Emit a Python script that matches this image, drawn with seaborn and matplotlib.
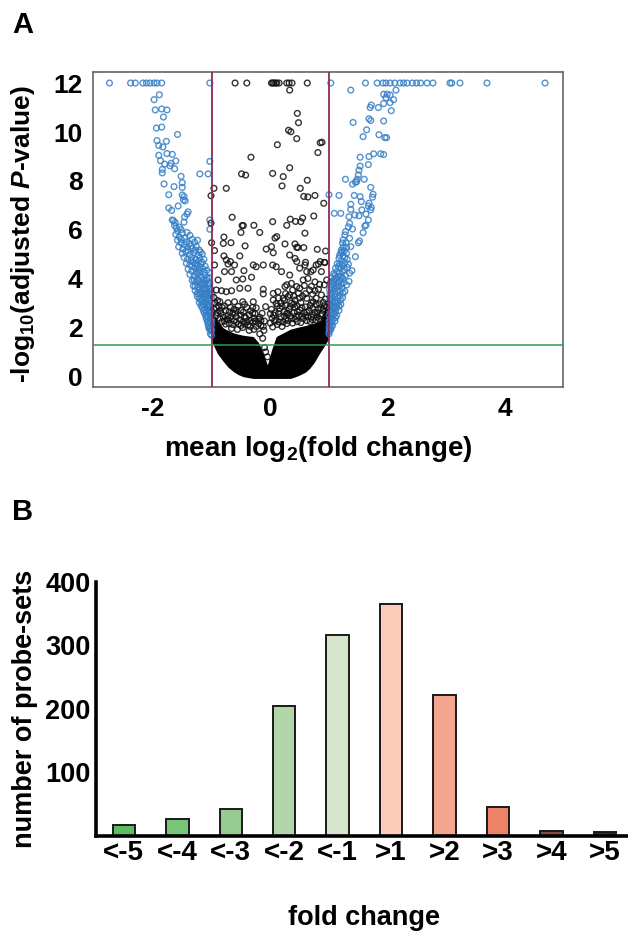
import matplotlib
matplotlib.use("Agg")
import matplotlib.pyplot as plt
import pandas as pd
import seaborn as sns
from matplotlib.ticker import MultipleLocator

# Panel A: values as (log2 fold change, -log10 p)
TOP_BLUE_X = [-2.74, -2.38, -2.30, -2.17, -2.11, -2.05, -1.98, -1.93, -1.85, -1.03,
              1.03, 1.62, 1.82, 1.92, 1.97, 2.04, 2.12, 2.21, 2.27, 2.33, 2.42, 2.49,
              2.56, 2.67, 2.77, 3.06, 3.09, 3.23, 3.69, 4.68]
TOP_BLACK_X = [-0.60, -0.40, 0.02, 0.04, 0.06, 0.09, 0.11, 0.15, 0.28, 0.32, 0.37, 0.63]

BLUE_LEFT = [
    (-1.89, 11.52), (-1.98, 11.32), (-1.96, 10.90), (-1.85, 10.94), (-1.76, 10.90), (-1.82, 10.61),
    (-1.94, 10.16), (-1.85, 10.20), (-1.58, 9.90), (-1.93, 9.65), (-1.77, 9.62), (-1.90, 9.45),
    (-1.83, 9.39), (-1.90, 9.05), (-1.76, 9.12), (-1.67, 9.09), (-1.87, 8.83), (-1.61, 8.82),
    (-1.69, 8.72), (-1.80, 8.69), (-1.71, 8.62), (-1.63, 8.50), (-1.84, 8.47), (-1.84, 8.33),
    (-1.20, 8.29), (-1.06, 8.29), (-1.03, 8.80), (-1.52, 8.19), (-1.50, 7.93), (-1.81, 7.88),
    (-1.64, 7.77), (-1.50, 7.74), (-1.73, 7.44), (-1.50, 7.43), (-1.47, 7.36), (-1.48, 7.23),
    (-1.45, 7.19), (-1.57, 6.98), (-1.73, 6.90), (-1.68, 6.80), (-1.40, 6.74), (-1.42, 6.65),
    (-1.46, 6.53), (-1.67, 6.41), (-1.47, 6.32), (-1.03, 6.41), (-1.03, 6.03), (-1.65, 6.38),
    (-1.62, 6.30), (-1.63, 6.18), (-1.60, 6.08), (-1.55, 6.12), (-1.52, 6.02), (-1.58, 5.95),
    (-1.61, 5.82), (-1.50, 5.88), (-1.42, 5.90), (-1.37, 5.78), (-1.55, 5.72), (-1.46, 5.66),
    (-1.33, 5.62), (-1.58, 5.58), (-1.52, 5.47), (-1.43, 5.52), (-1.38, 5.44), (-1.29, 5.50),
    (-1.24, 5.58), (-1.56, 5.31), (-1.49, 5.22), (-1.41, 5.30), (-1.33, 5.24), (-1.26, 5.33),
    (-1.21, 5.18), (-1.50, 5.05), (-1.44, 5.12), (-1.37, 5.00), (-1.30, 5.06), (-1.23, 4.98),
    (-1.16, 5.02), (-1.47, 4.88), (-1.41, 4.81), (-1.34, 4.88), (-1.27, 4.79), (-1.20, 4.86),
    (-1.13, 4.80), (-1.43, 4.64), (-1.37, 4.58), (-1.31, 4.68), (-1.25, 4.56), (-1.18, 4.62),
    (-1.11, 4.52), (-1.40, 4.40), (-1.34, 4.33), (-1.28, 4.44), (-1.22, 4.36), (-1.15, 4.42),
    (-1.08, 4.36), (-1.04, 4.25), (-1.37, 4.18), (-1.30, 4.12), (-1.24, 4.20), (-1.18, 4.08),
    (-1.11, 4.15), (-1.05, 4.06), (-1.33, 3.94), (-1.27, 3.87), (-1.21, 3.95), (-1.15, 3.84),
    (-1.09, 3.92), (-1.03, 3.82), (-1.31, 3.72), (-1.24, 3.66), (-1.18, 3.73), (-1.12, 3.62),
    (-1.06, 3.70), (-1.01, 3.58), (-1.28, 3.52), (-1.22, 3.44), (-1.16, 3.50), (-1.10, 3.38),
    (-1.04, 3.46), (-0.99, 3.36), (-1.24, 3.28), (-1.18, 3.20), (-1.13, 3.27), (-1.07, 3.16),
    (-1.02, 3.24), (-1.21, 3.04), (-1.15, 2.97), (-1.10, 3.05), (-1.05, 2.93), (-1.00, 3.02),
    (-1.16, 2.83), (-1.12, 2.76), (-1.07, 2.84), (-1.02, 2.72), (-1.12, 2.60), (-1.08, 2.52),
    (-1.04, 2.60), (-1.00, 2.50), (-1.09, 2.38), (-1.05, 2.30), (-1.01, 2.36), (-1.06, 2.16),
    (-1.03, 2.08), (-1.00, 2.14), (-1.04, 1.96), (-1.01, 1.88), (-1.02, 1.76),
    # denser part of the left arm
    (-1.35, 4.75), (-1.28, 4.62), (-1.22, 4.72), (-1.16, 4.68), (-1.33, 4.52), (-1.20, 4.50),
    (-1.13, 4.28), (-1.26, 4.28), (-1.20, 4.26), (-1.08, 4.02), (-1.14, 3.98), (-1.24, 3.96),
    (-1.30, 3.96), (-1.18, 3.86), (-1.12, 3.78), (-1.06, 3.82), (-1.28, 3.70), (-1.21, 3.58),
    (-1.15, 3.60), (-1.09, 3.55), (-1.03, 3.60), (-1.25, 3.40), (-1.19, 3.38), (-1.13, 3.40),
    (-1.07, 3.34), (-1.02, 3.40), (-1.21, 3.18), (-1.10, 3.20), (-1.04, 3.12), (-1.16, 3.10),
    (-1.12, 2.92), (-1.18, 2.92), (-1.07, 2.96), (-1.02, 2.90), (-1.14, 2.70), (-1.09, 2.68),
    (-1.04, 2.74), (-1.00, 2.66), (-1.10, 2.48), (-1.06, 2.44), (-1.02, 2.48), (-1.07, 2.26),
    (-1.03, 2.22), (-1.00, 2.30), (-1.05, 2.04), (-1.02, 1.98), (-1.00, 1.92), (-1.00, 1.70),
    (-1.46, 5.40), (-1.35, 5.35), (-1.28, 5.18), (-1.40, 5.15), (-1.19, 5.10), (-1.52, 5.62),
]
BLUE_RIGHT = [
    (1.37, 11.71), (2.14, 11.71), (1.93, 11.54), (1.99, 11.54), (2.04, 11.51), (1.97, 11.40),
    (2.10, 11.32), (2.04, 11.20), (1.93, 11.16), (1.72, 11.10), (1.70, 11.00), (1.84, 11.00),
    (2.06, 10.87), (1.41, 10.39), (1.68, 10.54), (1.71, 10.47), (1.93, 10.45), (1.64, 10.09),
    (1.85, 9.89), (1.58, 9.81), (1.95, 9.77), (1.98, 9.77), (1.53, 8.97), (1.68, 9.00),
    (1.76, 9.11), (1.88, 9.11), (1.93, 9.08), (1.67, 8.67), (1.53, 8.61), (1.51, 8.44),
    (1.50, 8.25), (1.28, 8.07), (1.60, 8.07), (1.48, 8.07), (1.47, 7.97), (1.45, 7.95),
    (1.40, 7.87), (1.71, 7.74), (1.00, 7.44), (1.17, 7.41), (1.43, 7.41), (1.53, 7.36),
    (1.75, 7.46), (1.74, 7.34), (1.55, 7.16), (1.37, 7.05), (1.68, 7.09), (1.67, 6.98),
    (1.72, 6.92), (1.71, 6.82), (1.37, 6.84), (1.09, 6.68), (1.20, 6.68), (1.34, 6.54),
    (1.44, 6.61), (1.51, 6.58), (1.56, 6.82), (1.63, 6.65), (1.67, 6.41), (1.63, 6.20),
    (1.61, 6.16), (1.35, 6.27), (1.33, 6.13), (1.40, 6.04), (1.28, 5.93), (1.27, 5.80),
    (1.58, 5.89), (1.52, 5.55), (1.50, 5.48), (1.24, 5.60), (1.35, 5.66), (1.37, 5.32),
    (1.23, 5.47), (1.21, 5.18), (1.20, 5.05), (1.30, 5.05), (1.17, 4.84), (1.45, 4.91),
    (1.33, 4.60), (1.16, 4.50), (1.10, 4.16), (1.39, 4.34), (1.35, 4.24), (1.21, 4.10),
    (1.34, 3.90), (1.07, 3.90), (1.13, 3.70), (1.27, 3.49), (1.04, 3.70), (1.01, 3.56),
    (1.30, 5.30), (1.26, 5.15), (1.24, 4.95), (1.31, 4.80), (1.21, 4.72), (1.27, 4.66),
    (1.14, 4.62), (1.20, 4.44), (1.26, 4.38), (1.31, 4.47), (1.13, 4.30), (1.17, 4.22),
    (1.28, 4.14), (1.05, 4.05), (1.12, 4.00), (1.19, 3.94), (1.25, 3.85), (1.30, 3.76),
    (1.08, 3.78), (1.17, 3.70), (1.22, 3.62), (1.02, 3.42), (1.07, 3.48), (1.12, 3.40),
    (1.18, 3.32), (1.23, 3.24), (1.01, 3.24), (1.05, 3.18), (1.10, 3.10), (1.15, 3.04),
    (1.20, 2.96), (1.00, 3.02), (1.04, 2.94), (1.08, 2.86), (1.12, 2.80), (1.17, 2.72),
    (1.01, 2.74), (1.05, 2.66), (1.09, 2.58), (1.13, 2.50), (1.00, 2.52), (1.03, 2.44),
    (1.07, 2.36), (1.10, 2.28), (1.00, 2.26), (1.03, 2.18), (1.06, 2.10), (1.00, 2.02),
    (1.03, 1.94), (1.00, 1.84),
    # denser part of the right arm
    (1.24, 5.30), (1.29, 5.48), (1.22, 5.10), (1.18, 4.96), (1.27, 4.88), (1.22, 4.58),
    (1.18, 4.62), (1.11, 4.44), (1.23, 4.30), (1.08, 4.22), (1.16, 4.10), (1.24, 4.02),
    (1.09, 3.98), (1.03, 3.90), (1.15, 3.84), (1.21, 3.78), (1.10, 3.62), (1.05, 3.60),
    (1.19, 3.50), (1.14, 3.52), (1.24, 3.42), (1.04, 3.32), (1.09, 3.28), (1.15, 3.22),
    (1.20, 3.14), (1.02, 3.10), (1.07, 3.02), (1.13, 2.92), (1.17, 2.88), (1.02, 2.88),
    (1.06, 2.78), (1.11, 2.68), (1.03, 2.60), (1.07, 2.52), (1.11, 2.42), (1.02, 2.34),
    (1.05, 2.26), (1.01, 2.12), (1.04, 2.04), (1.01, 1.92), (1.00, 1.76),
]
BLACK_POINTS = [
    (0.33, 11.71), (0.46, 10.76), (0.48, 10.38), (0.31, 10.07), (0.35, 10.01), (0.45, 9.73),
    (0.12, 9.48), (0.81, 9.16), (0.85, 9.56), (0.88, 9.58), (-0.33, 8.97), (-0.49, 8.29),
    (-0.42, 8.24), (0.04, 8.31), (0.22, 8.18), (0.33, 8.54), (0.63, 8.03), (0.20, 7.80),
    (0.51, 7.70), (-0.96, 7.70), (-0.75, 7.70), (-1.01, 7.40), (0.57, 7.37), (0.64, 7.35),
    (0.76, 7.41), (0.91, 7.09), (-0.65, 6.52), (-0.48, 6.18), (-0.46, 6.18), (-0.28, 6.19),
    (-0.50, 5.90), (-0.18, 5.90), (0.04, 6.34), (0.28, 6.19), (0.34, 6.44), (0.43, 6.35),
    (0.52, 6.34), (0.55, 6.49), (0.74, 6.57), (0.59, 5.87), (-1.01, 6.28), (-0.79, 5.71),
    (0.11, 5.73), (0.08, 5.67), (0.57, 5.28), (0.80, 5.21), (0.94, 5.14), (0.60, 4.68),
    (0.85, 4.71), (0.92, 4.68), (0.78, 4.57), (0.69, 4.30),
    (-1.00, 5.48), (-0.95, 5.16), (-0.80, 5.45), (-0.67, 5.48), (-0.43, 5.35), (-0.07, 5.22),
    (0.02, 5.32), (0.05, 5.07), (0.25, 5.43), (0.42, 5.43), (0.45, 5.29), (0.47, 5.29),
    (-0.79, 4.94), (-0.52, 4.94), (-0.75, 4.78), (-0.68, 4.71), (-0.95, 4.57), (-0.72, 4.61),
    (-0.61, 4.57), (-0.78, 4.30), (-0.66, 4.30), (-0.45, 4.34), (-0.29, 4.57), (-0.24, 4.50),
    (-0.12, 4.57), (0.04, 4.57), (0.10, 4.50), (0.19, 4.30), (0.33, 4.98), (0.42, 4.84),
    (0.45, 4.71), (0.59, 4.57), (0.82, 4.61), (0.93, 4.67), (0.33, 4.16), (0.50, 4.44),
    (0.62, 4.30), (0.73, 4.37), (0.87, 4.30), (-0.89, 3.96), (-0.58, 3.96), (-0.47, 4.00),
    (-0.32, 4.07), (-0.92, 3.55), (-0.83, 3.52), (-0.75, 3.48), (-0.66, 3.52), (-0.52, 3.62),
    (-0.38, 3.62), (-0.12, 3.58), (-0.12, 3.39), (0.05, 3.41), (0.13, 3.48), (0.25, 3.69),
    (0.36, 3.82), (0.45, 3.69), (0.56, 3.96), (0.67, 3.55), (0.82, 3.58), (-0.86, 3.07),
    (-0.72, 3.03), (-0.61, 3.07), (-0.47, 3.07), (-0.29, 3.07), (-0.08, 2.87), (0.05, 3.14),
    (0.22, 3.21), (0.33, 3.35), (0.42, 3.14), (0.62, 3.21), (0.73, 3.07), (0.87, 3.35),
    (0.28, 3.76), (0.38, 3.55), (0.50, 3.62), (0.58, 3.73), (0.64, 4.02), (0.76, 3.88),
    (0.92, 3.76), (0.96, 3.96), (0.30, 3.28), (0.48, 3.42), (0.55, 3.30), (0.72, 3.38),
    (0.78, 3.22), (0.94, 3.18), (0.18, 3.02), (0.26, 2.94), (0.36, 3.02), (0.46, 2.90),
    (0.52, 3.04), (0.68, 2.92), (0.84, 2.98), (0.90, 3.05), (-0.96, 3.24), (-0.90, 3.12),
    (-0.92, 2.82), (-0.82, 2.84), (-0.76, 2.72), (-0.68, 2.84), (-0.55, 2.88), (-0.50, 2.72),
    (-0.40, 2.84), (-0.34, 2.70), (-0.24, 2.82), (-0.14, 2.60), (0.02, 2.76), (0.08, 2.62),
    (0.16, 2.80), (0.24, 2.66), (0.32, 2.76), (0.40, 2.62), (0.50, 2.74), (0.58, 2.60),
    (0.66, 2.72), (0.76, 2.64), (0.82, 2.76), (-0.84, 2.58), (-0.72, 2.50), (-0.64, 2.60),
    (-0.58, 2.46), (-0.50, 2.52), (-0.42, 2.42), (-0.36, 2.54), (-0.28, 2.40), (-0.20, 2.36),
    (-0.10, 2.28), (0.03, 2.40), (0.10, 2.30), (0.18, 2.46), (0.26, 2.34), (0.34, 2.50),
    (0.42, 2.36), (0.48, 2.50), (0.56, 2.38), (0.64, 2.46), (0.72, 2.34), (0.80, 2.44),
    (-0.78, 2.28), (-0.70, 2.18), (-0.62, 2.30), (-0.54, 2.16), (-0.46, 2.26), (-0.38, 2.12),
    (-0.30, 2.22), (-0.24, 2.06), (-0.16, 2.10), (-0.11, 1.90), (0.04, 2.04), (0.12, 2.14),
    (0.20, 2.06), (0.28, 2.18), (-0.66, 1.98), (-0.56, 1.94), (-0.47, 2.02), (-0.36, 1.90),
    (-0.28, 1.94), (-0.18, 1.76), (-0.13, 1.58), (-0.10, 1.20), (-0.08, 1.02), (-0.05, 0.82),
    # speckled layer right above the solid mass
    (-0.90, 2.62), (-0.86, 2.40), (-0.80, 2.44), (-0.74, 2.36), (-0.68, 2.42), (-0.60, 2.60),
    (-0.52, 2.34), (-0.44, 2.46), (-0.40, 2.26), (-0.33, 2.30), (-0.26, 2.58), (-0.18, 2.44),
    (0.06, 2.52), (0.14, 2.58), (0.22, 2.24), (0.30, 2.60), (0.38, 2.20), (0.44, 2.48),
    (0.52, 2.22), (0.60, 2.50), (0.68, 2.26), (0.74, 2.52), (0.84, 2.36), (0.88, 2.58),
    (0.92, 2.90), (0.86, 2.82), (0.78, 2.96), (0.70, 3.02), (0.60, 2.86), (0.42, 2.84),
    (0.34, 2.88), (0.20, 2.88), (0.12, 2.90), (-0.30, 2.84), (-0.44, 2.96), (-0.58, 2.72),
    (-0.70, 2.66), (-0.78, 2.90), (-0.88, 2.90), (-0.94, 3.02), (0.10, 3.00), (0.60, 3.40),
    (0.50, 3.22), (0.40, 3.30), (0.26, 3.40), (0.70, 3.70), (0.84, 3.78), (0.76, 3.52),
    (-0.92, 2.50), (-0.82, 2.26), (-0.76, 2.16), (-0.72, 2.34), (-0.64, 2.14), (-0.58, 2.24),
    (-0.50, 2.10), (-0.44, 2.16), (-0.34, 2.06), (-0.26, 2.28), (-0.20, 2.18), (-0.16, 2.30),
    (-0.12, 2.06), (0.00, 2.20), (0.07, 2.28), (0.15, 2.24), (0.24, 2.48), (0.30, 2.30),
    (0.36, 2.38), (0.46, 2.26), (0.54, 2.48), (0.62, 2.30), (0.70, 2.44), (0.78, 2.32),
    (0.86, 2.50), (0.90, 2.76), (-0.96, 2.76), (-0.86, 2.70), (-0.62, 2.76), (-0.46, 2.64),
    (-0.30, 2.60), (0.00, 2.58), (0.28, 2.60), (0.46, 2.66), (0.62, 2.64), (0.72, 2.80),
    (0.80, 2.62), (0.96, 2.84), (0.54, 2.82), (0.40, 2.98), (0.24, 3.12), (0.14, 3.22),
]

# outline of the solid black mass at the bottom of the volcano
MASS_X = [-1.0, -0.97, -0.9, -0.8, -0.72, -0.63, -0.55, -0.46, -0.29, -0.2, -0.12, -0.05, 0.02, 0.1, 0.34, 0.42, 0.5, 0.6, 0.67, 0.75, 0.84, 0.93, 0.99]
MASS_LOW = [1.5, 1.3, 0.95, 0.63, 0.40, 0.22, 0.10, 0.01, -0.06, -0.06, -0.06, -0.06, -0.06, -0.06, -0.06, 0.0, 0.08, 0.2, 0.35, 0.6, 0.97, 1.3, 1.55]
MASS_HIGH = [1.5, 2.6, 2.3, 2.0, 1.9, 1.8, 1.75, 1.7, 1.65, 1.4, 0.97, 0.49, 1.1, 1.65, 1.95, 2.0, 2.05, 2.1, 2.15, 2.2, 2.3, 2.8, 3.2]

# Panel B
CATEGORIES = ["<-5", "<-4", "<-3", "<-2", "<-1", ">1", ">2", ">3", ">4", ">5"]
COUNTS = [17, 26, 42, 204, 316, 365, 222, 45, 7, 6]
BAR_COLORS = ["#5DBB63", "#78C479", "#97CB92", "#B3D6A8", "#D4E5CC",
              "#FDCDBB", "#F4A58F", "#EC8268", "#8A4A3A", "#3A2A25"]

BLUE = "#357FC6"
BLACK = "#111111"
WIDTH, HEIGHT = 628, 934


def axes_rect(left, top, right, bottom):
    """Pixel box of the reference to figure fractions."""
    return [left / WIDTH, 1 - bottom / HEIGHT, (right - left) / WIDTH, (bottom - top) / HEIGHT]


def rings(ax, x, y, color):
    sns.scatterplot(x=x, y=y, ax=ax, s=17, marker="o", facecolors="none",
                    edgecolor=color, color=color, linewidth=1.0, alpha=0.85, zorder=3)


def draw_volcano(ax):
    ax.fill_between(MASS_X, MASS_LOW, MASS_HIGH, color="black", lw=0, zorder=2)

    blue = pd.DataFrame(BLUE_LEFT + BLUE_RIGHT, columns=["fc", "p"])
    black = pd.DataFrame(BLACK_POINTS, columns=["fc", "p"])
    rings(ax, blue["fc"], blue["p"], BLUE)
    rings(ax, black["fc"], black["p"], BLACK)
    rings(ax, TOP_BLUE_X, [12] * len(TOP_BLUE_X), BLUE)
    rings(ax, TOP_BLACK_X, [12] * len(TOP_BLACK_X), BLACK)

    ax.axvline(-1, color="#8E2A5B", lw=1.3, zorder=4)
    ax.axvline(1, color="#8E2A5B", lw=1.3, zorder=4)
    ax.axhline(1.3, color="#2E9B4F", lw=1.1, zorder=4)

    ax.set_xlim(-3.02, 4.98)
    ax.set_ylim(-0.41, 12.47)
    ax.set_xticks([-2, 0, 2, 4])
    ax.set_yticks([0, 2, 4, 6, 8, 10, 12])
    ax.tick_params(length=4.5, width=1.1, color="#666666", labelsize=19, labelcolor="black", pad=3)
    for spine in ax.spines.values():
        spine.set_visible(True)
        spine.set_color("#666666")
        spine.set_linewidth(1.2)
    ax.set_xlabel(r"mean log$_{\mathbf{2}}$(fold change)", fontsize=20, fontweight="bold", color="black")
    ax.set_ylabel(r"-log$_{\mathbf{10}}$(adjusted $\mathbfit{P}$-value)", fontsize=19, fontweight="bold", color="black")
    ax.xaxis.set_label_coords(0.479, -0.15)
    ax.yaxis.set_label_coords(-0.119, 0.485)


def draw_bars(ax):
    table = pd.DataFrame({"group": CATEGORIES, "count": COUNTS})
    sns.barplot(data=table, x="group", y="count", hue="group", palette=BAR_COLORS, legend=False,
                width=0.42, saturation=1, edgecolor="#1a1a1a", linewidth=1.4, ax=ax)
    ax.set_xlim(-0.52, 9.41)
    ax.set_ylim(0, 400)
    ax.set_yticks([100, 200, 300, 400])
    ax.yaxis.set_minor_locator(MultipleLocator(50))
    ax.tick_params(axis="y", which="both", length=2, width=2.2, color="black", labelsize=19.5, labelcolor="black", pad=2)
    ax.tick_params(axis="x", length=0, labelsize=20, labelcolor="black", pad=3)
    sns.despine(ax=ax)
    ax.spines["left"].set_linewidth(2.6)
    ax.spines["bottom"].set_linewidth(2.6)
    ax.spines["left"].set_color("black")
    ax.spines["bottom"].set_color("black")
    ax.set_xlabel("")
    ax.set_ylabel("number of probe-sets", fontsize=19.5, fontweight="bold", color="black", labelpad=5)


def main():
    sns.set_theme(style="white")
    plt.rcParams["font.family"] = ["Liberation Sans", "DejaVu Sans"]
    plt.rcParams["font.weight"] = "bold"
    plt.rcParams["axes.labelweight"] = "bold"
    plt.rcParams["axes.unicode_minus"] = False
    plt.rcParams["mathtext.fontset"] = "custom"
    plt.rcParams["mathtext.rm"] = "Liberation Sans:bold"
    plt.rcParams["mathtext.bf"] = "Liberation Sans:bold"
    plt.rcParams["mathtext.bfit"] = "Liberation Sans:italic:bold"

    fig = plt.figure(figsize=(WIDTH / 100, HEIGHT / 100), dpi=100)
    ax_a = fig.add_axes(axes_rect(93, 71.5, 562.7, 387))
    ax_b = fig.add_axes(axes_rect(96, 582, 627, 835.7))
    draw_volcano(ax_a)
    draw_bars(ax_b)

    fig.text(12 / WIDTH, 1 - 33 / HEIGHT, "A", fontsize=21, fontweight="bold", color="black")
    fig.text(12 / WIDTH, 1 - 520 / HEIGHT, "B", fontsize=21, fontweight="bold", color="black")
    fig.text(364 / WIDTH, 1 - 918 / HEIGHT, "fold change", fontsize=19.5, fontweight="bold",
             ha="center", va="center", color="black")

    fig.savefig("out.png", dpi=100)
    plt.close(fig)


if __name__ == "__main__":
    main()
